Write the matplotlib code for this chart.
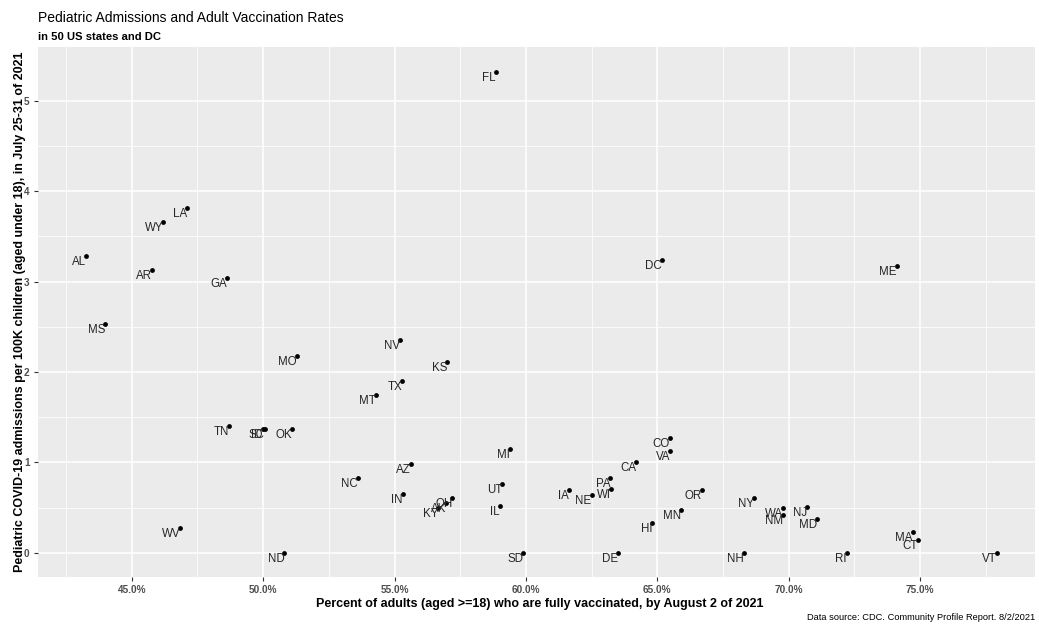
import matplotlib
matplotlib.use("Agg")
import matplotlib.pyplot as plt
from matplotlib.ticker import FixedLocator, FuncFormatter

plt.rcParams['font.family'] = ['Liberation Sans', 'DejaVu Sans']

states = ["FL", "LA", "WY", "AL", "AR", "GA", "MS", "DC", "ME", "NV",
          "MO", "KS", "TX", "MT", "TN", "ID", "SC", "OK", "CO", "VA",
          "CA", "MI", "AZ", "NC", "UT", "PA", "WI", "IA", "NE", "OR",
          "NY", "WA", "NM", "NJ", "MD", "IN", "OH", "AK", "KY", "IL",
          "HI", "MN", "MA", "CT", "VT", "WV", "ND", "SD", "DE", "NH", "RI"]
vacc_pct = [58.86, 47.10, 46.19, 43.26, 45.77, 48.63, 43.98, 65.18, 74.11, 55.21,
            51.29, 57.00, 55.29, 54.30, 48.70, 49.98, 50.07, 51.10, 65.49, 65.49,
            64.19, 59.39, 55.62, 53.61, 59.10, 63.21, 63.23, 61.63, 62.50, 66.71,
            68.68, 69.79, 69.79, 70.71, 71.10, 55.31, 57.20, 56.96, 56.67, 59.01,
            64.82, 65.91, 74.72, 74.91, 77.93, 46.84, 50.81, 59.90, 63.50, 68.30, 72.22]
ped_adm = [5.32, 3.81, 3.66, 3.28, 3.13, 3.04, 2.53, 3.24, 3.17, 2.35,
           2.18, 2.11, 1.90, 1.74, 1.40, 1.37, 1.37, 1.37, 1.27, 1.13,
           1.00, 1.15, 0.98, 0.83, 0.76, 0.83, 0.70, 0.69, 0.64, 0.69,
           0.61, 0.49, 0.42, 0.51, 0.37, 0.65, 0.61, 0.55, 0.50, 0.52,
           0.33, 0.47, 0.23, 0.14, 0.00, 0.27, 0.00, 0.00, 0.00, 0.00, 0.00]

x_ticks = [45, 50, 55, 60, 65, 70, 75]
x_minor = [42.5, 47.5, 52.5, 57.5, 62.5, 67.5, 72.5, 77.5]
y_ticks = [0, 1, 2, 3, 4, 5]
y_minor = [0.5, 1.5, 2.5, 3.5, 4.5]

W, H = 1039, 625
fig = plt.figure(figsize=(W / 100, H / 100), dpi=100)
left, right, top, bottom = 38, 1035, 47.4, 576.7
ax = fig.add_axes([left / W, (H - bottom) / H, (right - left) / W, (bottom - top) / H])
ax.set_facecolor('#EBEBEB')
for s in ax.spines.values():
    s.set_visible(False)

ax.set_xlim(41.43, 79.38)
ax.set_ylim(-0.265, 5.59)

ax.xaxis.set_major_locator(FixedLocator(x_ticks))
ax.xaxis.set_minor_locator(FixedLocator(x_minor))
ax.yaxis.set_major_locator(FixedLocator(y_ticks))
ax.yaxis.set_minor_locator(FixedLocator(y_minor))
ax.xaxis.set_major_formatter(FuncFormatter(lambda v, p: f"{v:.1f}%"))
ax.yaxis.set_major_formatter(FuncFormatter(lambda v, p: f"{int(v)}"))

ax.grid(which='major', color='white', linewidth=1.1)
ax.grid(which='minor', color='white', linewidth=0.55)
ax.set_axisbelow(True)
ax.tick_params(which='major', length=3, width=0.8, color='#333333', pad=3,
               labelsize=7.2, labelcolor='#4D4D4D')
ax.tick_params(which='minor', length=0)
for lab in ax.get_xticklabels() + ax.get_yticklabels():
    lab.set_fontweight('bold')

ax.scatter(vacc_pct, ped_adm, s=12, color='black', zorder=3, linewidths=0)
for st, xv, yv in zip(states, vacc_pct, ped_adm):
    ax.text(xv, yv, st, ha='right', va='top', fontsize=8.3, color='#262626', zorder=4)

ax.set_xlabel("Percent of adults (aged >=18) who are fully vaccinated, by August 2 of 2021",
              fontsize=9, fontweight='bold', color='black')
ax.set_ylabel("Pediatric COVID-19 admissions per 100K children (aged under 18), in July 25-31 of 2021",
              fontsize=9, fontweight='bold', color='black')
ax.xaxis.set_label_coords((539.5 - left) / (right - left), -(604 - bottom) / (bottom - top))
ax.yaxis.set_label_coords(-(left - 20) / (right - left), 0.5)
ax.xaxis.label.set_va('center')
ax.yaxis.label.set_va('center')

fig.text(38 / W, 1 - 18.5 / H, "Pediatric Admissions and Adult Vaccination Rates",
         fontsize=10, ha='left', va='center', color='black')
fig.text(38 / W, 1 - 37 / H, "in 50 US states and DC",
         fontsize=8.1, fontweight='bold', ha='left', va='center', color='black')
fig.text(1035 / W, 1 - 618 / H, "Data source: CDC. Community Profile Report. 8/2/2021",
         fontsize=6.7, ha='right', va='center', color='black')

fig.savefig("out.png", dpi=100)
